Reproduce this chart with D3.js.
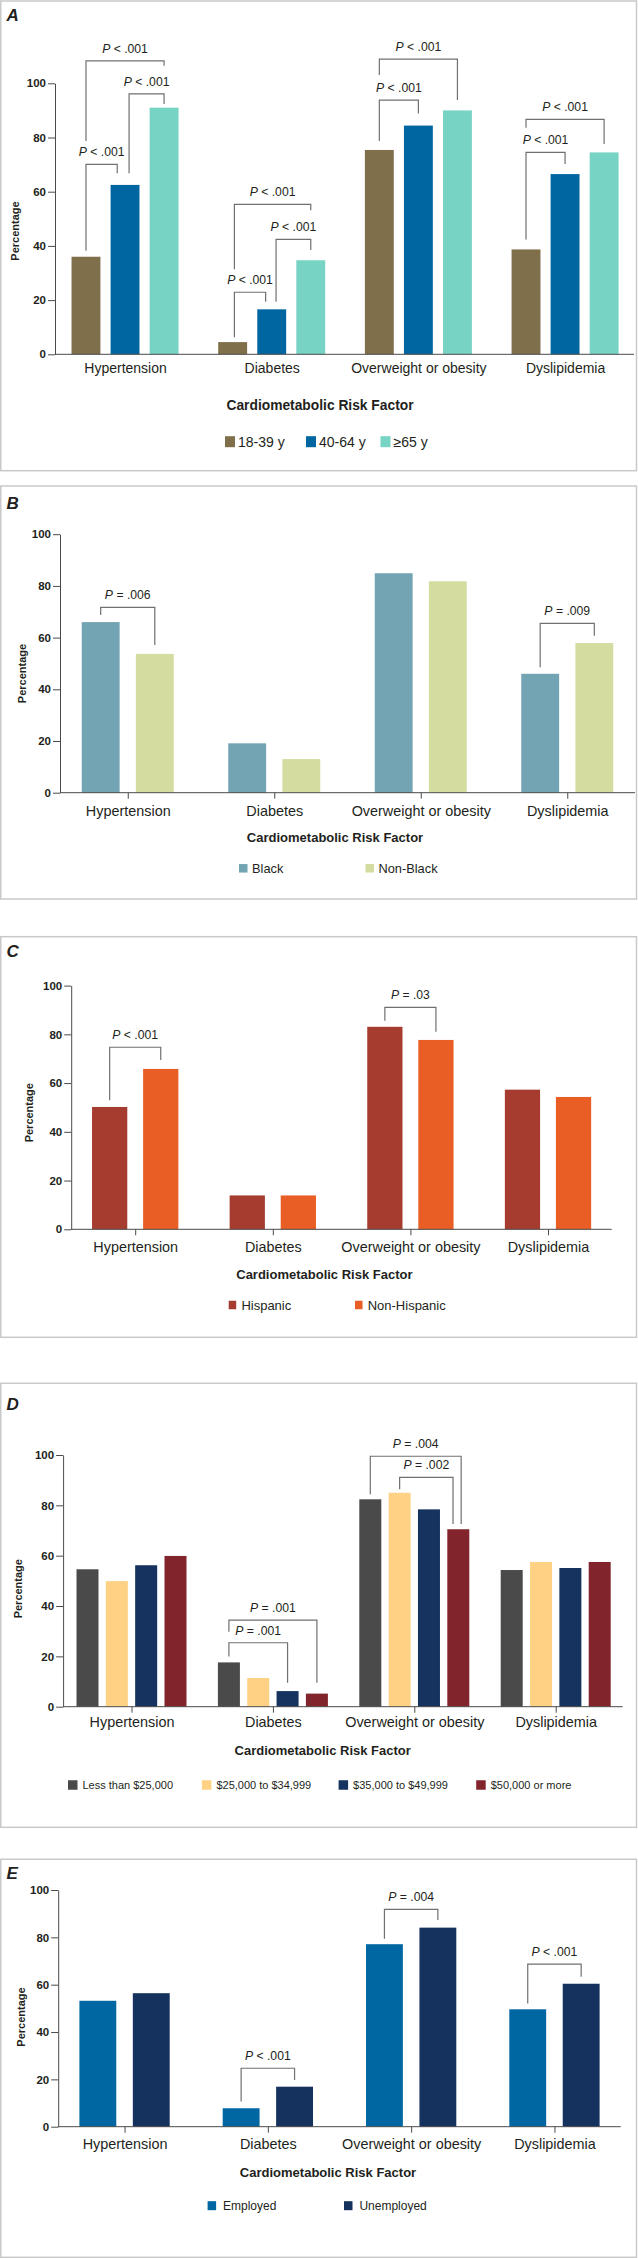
<!DOCTYPE html>
<html lang="en">
<head>
<meta charset="utf-8">
<title>Cardiometabolic Risk Factors</title>
<script src="https://d3js.org/d3.v7.min.js"></script>
<style>
  body { margin: 0; background: #fff; font-family: "Liberation Sans", Arial, sans-serif; }
  svg text { fill: #231f20; }
  .frame { fill: none; stroke: #c9c9c9; stroke-width: 1.5; }
  .axis path, .axis line { stroke: #4a4a4a; stroke-width: 1; }
  .bracket { fill: none; stroke: #707070; stroke-width: 1.2; }
</style>
</head>
<body>
<svg id="chart" width="638" height="2258"></svg>
<script>
const categories = ["Hypertension", "Diabetes", "Overweight or obesity", "Dyslipidemia"];
const yTicks = [0, 20, 40, 60, 80, 100];

// A - age
const ageGroups = ["18-39 y", "40-64 y", "≥65 y"];
const ageColors = ["#806f4b", "#0066a1", "#77d3c3"];
const ageValues = [
  [36, 4.5, 75.4, 38.7],
  [62.5, 16.6, 84.4, 66.5],
  [91, 34.7, 90, 74.5]
];
// [category, series a, series b, label, bracket level, leg a end, leg b end, leg a pos, leg b pos]
const ageTests = [
  [0, 0, 1, "P < .001", 70.1, 38.2, 66.8, 0.5, 0.23],
  [0, 0, 2, "P < .001", 108.3, 78.7, 106.5, 0.5, 0.5],
  [0, 1, 2, "P < .001", 96.1, 66.8, 92.4, 0.64, 0.5],
  [1, 0, 1, "P < .001", 22.9, 6.3, 19.4, 0.56, 0.29],
  [1, 0, 2, "P < .001", 55.3, 31.4, 53.2, 0.56, 0.5],
  [1, 1, 2, "P < .001", 42.4, 19.4, 38.5, 0.65, 0.5],
  [2, 0, 1, "P < .001", 93.8, 78.7, 88.9, 0.5, 0.5],
  [2, 0, 2, "P < .001", 108.9, 103.1, 93.8, 0.5, 0.5],
  [3, 0, 1, "P < .001", 74.5, 42.4, 70.2, 0.5, 0.5],
  [3, 0, 2, "P < .001", 86.7, 83.6, 77.6, 0.5, 0.5]
];

// B - race
const raceGroups = ["Black", "Non-Black"];
const raceColors = ["#73a4b4", "#d4dca0"];
const raceValues = [
  [66, 19.1, 84.9, 46],
  [53.7, 13, 81.8, 57.9]
];
const raceTests = [
  [0, 0, 1, "P = .006", 71.7, 68.7, 57.1, 0.5, 0.5],
  [3, 0, 1, "P = .009", 65.5, 48.5, 60.7, 0.5, 0.5]
];

// C - ethnicity
const ethGroups = ["Hispanic", "Non-Hispanic"];
const ethColors = ["#a53c2f", "#e85e24"];
const ethValues = [
  [50.2, 13.9, 83.1, 57.3],
  [65.8, 13.9, 77.7, 54.3]
];
const ethTests = [
  [0, 0, 1, "P < .001", 74.7, 53, 69.5, 0.5, 0.5],
  [2, 0, 1, "P = .03", 91.1, 85.6, 81.1, 0.5, 0.5]
];

// D - income
const incomeGroups = ["Less than $25,000", "$25,000 to $34,999", "$35,000 to $49,999", "$50,000 or more"];
const incomeColors = ["#4a4a4a", "#ffd185", "#16325e", "#82242b"];
const incomeValues = [
  [54.6, 17.6, 82.4, 54.3],
  [49.9, 11.4, 85, 57.5],
  [56.2, 6.2, 78.4, 55.1],
  [59.9, 5.2, 70.5, 57.5]
];
const incomeTests = [
  [1, 0, 3, "P = .001", 34.4, 29.8, 9.5, 0.5, 0.5],
  [1, 0, 2, "P = .001", 25.4, 19.9, 9.5, 0.5, 0.5],
  [2, 0, 3, "P = .004", 99.5, 84.4, 72.6, 0.5, 0.63],
  [2, 1, 3, "P = .002", 91.1, 86.4, 72.6, 0.5, 0.26]
];

// E - employment
const jobGroups = ["Employed", "Unemployed"];
const jobColors = ["#0067a2", "#15315e"];
const jobValues = [
  [53.2, 7.8, 77.1, 49.6],
  [56.4, 16.9, 84.1, 60.4]
];
const jobTests = [
  [1, 0, 1, "P < .001", 24.7, 10.6, 19.7, 0.5, 0.5],
  [2, 0, 1, "P = .004", 91.8, 79.4, 87.3, 0.5, 0.5],
  [3, 0, 1, "P < .001", 68.7, 52.1, 63.4, 0.5, 0.5]
];

const panels = [
  { letter: "A", letterY: 20.7, top: 1, bottom: 470.7, y0: 354.3, y100: 83.3, axisX: 55, axisEnd: 634,
    band: [51.7, 638.4], group: 107, pad: 0.26, tick: 0, catY: 372.7, catSize: 14,
    titleX: 320, titleY: 409.7, titleSize: 13.8, legendY: 441.7, legendX: [225, 306, 380.5],
    sw: [10, 11], textDx: 13, legendSize: 14, pctX: 15.5, pctY: 231,
    series: ageGroups, values: ageValues, colors: ageColors, tests: ageTests },
  { letter: "B", letterY: 509, top: 486, bottom: 899, y0: 792.7, y100: 534.2, axisX: 60, axisEnd: 635,
    band: [54.5, 640.5], group: 92, pad: 0.3, tick: 6, catY: 816, catSize: 14.4,
    titleX: 335, titleY: 842, titleSize: 13, legendY: 868.3, legendX: [239, 365.5],
    sw: [8.5, 8.5], textDx: 13, legendSize: 12.8, pctX: 21.7, pctY: 673.5,
    series: raceGroups, values: raceValues, colors: raceColors, tests: raceTests },
  { letter: "C", letterY: 957.3, top: 936.7, bottom: 1337.3, y0: 1229.3, y100: 985.6, axisX: 71.2, axisEnd: 611.7,
    band: [66.4, 616.8], group: 86.3, pad: 0.31, tick: 6, catY: 1252, catSize: 14.4,
    titleX: 324.4, titleY: 1278.7, titleSize: 13, legendY: 1305, legendX: [228.7, 355],
    sw: [7.5, 8.5], textDx: 12.7, legendSize: 13, pctX: 29.5, pctY: 1112.7,
    series: ethGroups, values: ethValues, colors: ethColors, tests: ethTests },
  { letter: "D", letterY: 1410, top: 1383.3, bottom: 1827.3, y0: 1706.7, y100: 1455, axisX: 63.1, axisEnd: 622.7,
    band: [60.8, 626.4], group: 110, pad: 0.25, tick: 6, catY: 1727.5, catSize: 14.4,
    titleX: 322.7, titleY: 1754.7, titleSize: 13, legendY: 1785, legendX: [68, 201.9, 338.6, 476.2],
    sw: [9.5, 9.5], textDx: 14.5, legendSize: 11, pctX: 18.5, pctY: 1588.7,
    series: incomeGroups, values: incomeValues, colors: incomeColors, tests: incomeTests },
  { letter: "E", letterY: 1879, top: 1859.3, bottom: 2257.3, y0: 2126.7, y100: 1890, axisX: 58.2, axisEnd: 620.7,
    band: [52.9, 626.1], group: 90.3, pad: 0.31, tick: 6, catY: 2149, catSize: 14.4,
    titleX: 328, titleY: 2177, titleSize: 13, legendY: 2205.7, legendX: [207.6, 344],
    sw: [8.5, 9], textDx: 15.4, legendSize: 12, pctX: 21.4, pctY: 2017,
    series: jobGroups, values: jobValues, colors: jobColors, tests: jobTests }
];

const svg = d3.select("#chart");

panels.forEach(drawPanel);

function drawPanel(p) {
  const g = svg.append("g");

  g.append("rect").attr("class", "frame")
    .attr("x", 0.75).attr("y", p.top)
    .attr("width", 635.75).attr("height", p.bottom - p.top);

  g.append("text")
    .attr("x", 6.5).attr("y", p.letterY)
    .attr("font-size", 17).attr("font-weight", "bold").attr("font-style", "italic")
    .text(p.letter);

  const y = d3.scaleLinear().domain([0, 100]).range([p.y0, p.y100]);
  const x0 = d3.scaleBand().domain(d3.range(categories.length)).range(p.band);
  const x1 = d3.scaleBand().domain(d3.range(p.series.length))
    .range([-p.group / 2, p.group / 2]).paddingInner(p.pad);

  // bars
  p.values.forEach((vals, s) => {
    g.append("g").selectAll("rect")
      .data(vals)
      .join("rect")
      .attr("x", (d, i) => x0(i) + x0.bandwidth() / 2 + x1(s))
      .attr("y", d => y(d))
      .attr("width", x1.bandwidth())
      .attr("height", d => y(0) - y(d))
      .attr("fill", p.colors[s]);
  });

  // y axis
  const ya = g.append("g").attr("class", "axis")
    .attr("transform", `translate(${p.axisX},0)`)
    .call(d3.axisLeft(y).tickValues(yTicks).tickSize(7).tickSizeOuter(0).tickPadding(2));
  ya.selectAll("text").attr("font-size", 11.5).attr("font-weight", "bold")
    .attr("font-family", "'Liberation Sans', Arial, sans-serif").style("fill", "#231f20");

  // x axis baseline
  g.append("line").attr("class", "axis-line")
    .attr("x1", p.axisX).attr("x2", p.axisEnd)
    .attr("y1", p.y0).attr("y2", p.y0)
    .attr("stroke", "#4a4a4a").attr("stroke-width", 1);

  const xAxis = d3.axisBottom(d3.scalePoint().domain(categories)
      .range([x0(0) + x0.bandwidth() / 2, x0(categories.length - 1) + x0.bandwidth() / 2]))
    .tickSize(p.tick).tickSizeOuter(0)
    .tickPadding(p.catY - p.y0 - p.tick - 0.71 * p.catSize);
  const xa = g.append("g").attr("class", "axis")
    .attr("transform", `translate(0,${p.y0})`)
    .call(xAxis);
  xa.select(".domain").remove();
  xa.selectAll("text").attr("font-size", p.catSize)
    .attr("font-family", "'Liberation Sans', Arial, sans-serif").style("fill", "#231f20");

  // axis titles
  g.append("text")
    .attr("x", p.titleX).attr("y", p.titleY)
    .attr("text-anchor", "middle").attr("font-size", p.titleSize).attr("font-weight", "bold")
    .text("Cardiometabolic Risk Factor");

  g.append("text")
    .attr("transform", `translate(${p.pctX},${p.pctY}) rotate(-90)`)
    .attr("text-anchor", "middle").attr("dy", "0.35em")
    .attr("font-size", 11).attr("font-weight", "bold")
    .text("Percentage");

  // significance brackets
  p.tests.forEach(t => {
    const [c, a, b, label, level, endA, endB, fa, fb] = t;
    const xa_ = x0(c) + x0.bandwidth() / 2 + x1(a) + fa * x1.bandwidth();
    const xb_ = x0(c) + x0.bandwidth() / 2 + x1(b) + fb * x1.bandwidth();
    const path = d3.path();
    path.moveTo(xa_, y(endA));
    path.lineTo(xa_, y(level));
    path.lineTo(xb_, y(level));
    path.lineTo(xb_, y(endB));
    g.append("path").attr("class", "bracket").attr("d", path.toString());

    const txt = g.append("text")
      .attr("x", (xa_ + xb_) / 2).attr("y", y(level) - 8)
      .attr("text-anchor", "middle").attr("font-size", 12.2);
    txt.append("tspan").attr("font-style", "italic").text(label.slice(0, 1));
    txt.append("tspan").text(label.slice(1));
  });

  // legend
  const leg = g.append("g").selectAll("g")
    .data(p.series)
    .join("g")
    .attr("transform", (d, i) => `translate(${p.legendX[i]},${p.legendY})`);
  leg.append("rect")
    .attr("x", 0).attr("y", -p.sw[1] / 2)
    .attr("width", p.sw[0]).attr("height", p.sw[1])
    .attr("fill", (d, i) => p.colors[i]);
  leg.append("text")
    .attr("x", p.textDx).attr("dy", "0.36em")
    .attr("font-size", p.legendSize)
    .text(d => d);
}
</script>
</body>
</html>
